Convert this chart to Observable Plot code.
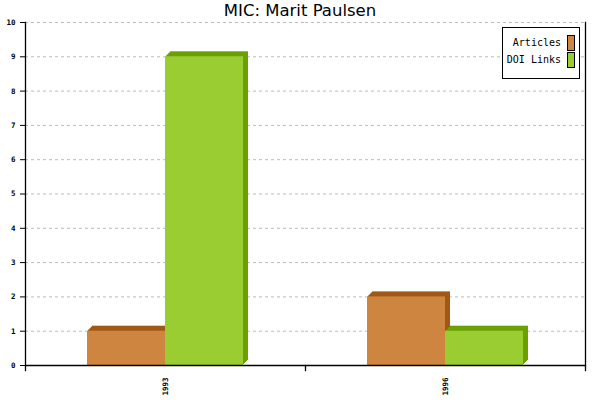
<!DOCTYPE html>
<html><head><meta charset="utf-8">
<script src="https://cdn.jsdelivr.net/npm/d3@7"></script>
<script src="https://cdn.jsdelivr.net/npm/@observablehq/plot@0.6"></script>
<style>
body{margin:0;background:#fff}
#wrap{position:relative;width:600px;height:400px}
#title{position:absolute;top:0;left:0;width:600px;text-align:center;font-family:"DejaVu Sans",sans-serif;font-size:16.5px;line-height:21px;color:#000}
#legend{position:absolute;left:502px;top:27px;width:76px;height:44px;border:1px solid #000;background:#fff;font-family:"DejaVu Sans Mono",monospace;font-size:10px;box-sizing:content-box;padding-top:6px}
.row{display:flex;justify-content:flex-end;align-items:center;height:17px;padding-right:4px}
.sw{width:6px;height:14px;border:1px solid #000;margin-left:6px}
</style></head>
<body><div id="wrap"><div id="chart"></div><div id="title">MIC: Marit Paulsen</div><div id="legend"></div></div>
<script>
const years = ["1993", "1996"];
const series = ["Articles", "DOI Links"];
const articles = [1, 2];
const doiLinks = [9, 1];
const faceColors = ["#CD853F", "#9ACD32"];
const sideColors = ["#A05814", "#6BA000"];
const yTicks = d3.range(0, 11);
const depthSteps = [1, 2, 3, 4, 5];

const data = [];
years.forEach((yr, i) => {
  data.push({year: yr, series: series[0], value: articles[i]});
  data.push({year: yr, series: series[1], value: doiLinks[i]});
});

const font = {fontFamily: "DejaVu Sans Mono, monospace", fontSize: 7.5, fontWeight: "bold"};

const chart = Plot.plot({
  width: 600, height: 400,
  marginTop: 22, marginBottom: 35, marginLeft: 25, marginRight: 15,
  fx: {domain: years, padding: 0, label: null},
  x: {domain: series, paddingInner: 0, paddingOuter: 0.78, axis: null},
  y: {domain: [0, 10], label: null},
  style: {background: "transparent", overflow: "visible"},
  marks: [
    Plot.gridY(yTicks.slice(1), {stroke: "#bbb", strokeOpacity: 1, strokeDasharray: "3,3"}),
    ...series.flatMap((s, k) => [
      ...depthSteps.map(d =>
        Plot.barY(data.filter(r => r.series === s), {fx: "year", x: "series", y: "value", fill: sideColors[k], dx: d, dy: -d})),
      Plot.barY(data.filter(r => r.series === s), {fx: "year", x: "series", y: "value", fill: faceColors[k]})
    ]),
    Plot.ruleY([0], {stroke: "#000", strokeWidth: 1.3}),
    Plot.frame({anchor: "left", facetAnchor: "left", stroke: "#000", strokeWidth: 1.3}),
    Plot.frame({anchor: "right", facetAnchor: "right", stroke: "#000", strokeWidth: 1.3}),
    Plot.frame({anchor: "left", insetTop: 338, dy: 5, stroke: "#000", strokeWidth: 1.3}),
    Plot.frame({anchor: "right", facetAnchor: "right", insetTop: 338, dy: 5, stroke: "#000", strokeWidth: 1.3}),
    Plot.axisY({ticks: yTicks, tickSize: 5, tickPadding: 5, label: null, ...font}),
    Plot.axisFx({anchor: "bottom", tickSize: 0, tickRotate: -90, tickPadding: 12, label: null, ...font})
  ]
});
document.getElementById("chart").appendChild(chart);

const legend = document.getElementById("legend");
series.forEach((s, k) => {
  const row = document.createElement("div");
  row.className = "row";
  const t = document.createElement("span");
  t.textContent = s;
  const sw = document.createElement("span");
  sw.className = "sw";
  sw.style.background = faceColors[k];
  row.appendChild(t); row.appendChild(sw);
  legend.appendChild(row);
});
</script>
</body></html>
